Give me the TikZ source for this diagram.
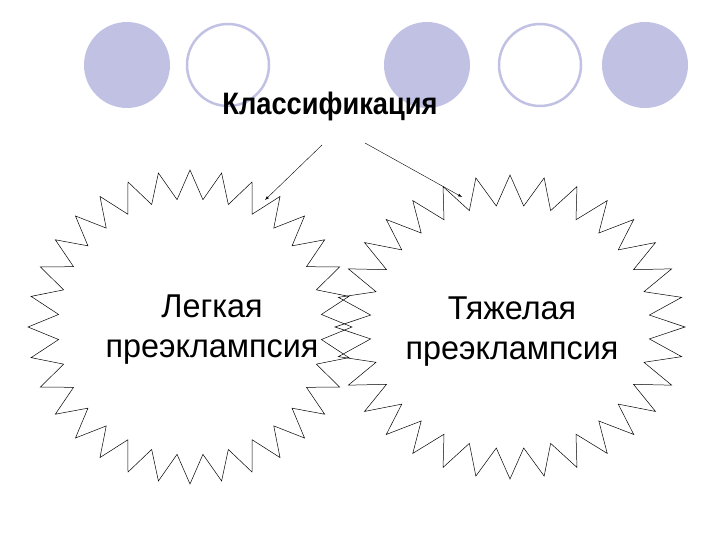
\documentclass[tikz,border=0pt]{standalone}
\usepackage{fontspec}
\setmainfont{Liberation Sans}
\begin{document}
\begin{tikzpicture}[x=1pt,y=-1pt,
  fc/.style={fill=blue!40!gray!35!white,draw=none},
  oc/.style={draw=blue!40!gray!35!white,line width=2.5pt},
  ttl/.style={font=\bfseries\fontsize{31}{36}\selectfont,xscale=0.88},
  lbl/.style={font=\fontsize{33}{40}\selectfont,align=center,xscale=0.98},
  arr/.style={-latex,thin}]
\useasboundingbox (0,0) rectangle (720,540);
\fill[fc] (127,65) circle (43);
\draw[oc] (228,65) circle (41);
\fill[fc] (427,65) circle (43);
\draw[oc] (540,65) circle (41);
\fill[fc] (645,65) circle (43);
\node[ttl] (cls) at (330,106) {Классификация};
\draw[black,line width=0.5pt] (190+162,327)
  \foreach \i [evaluate=\i as \r using {isodd(\i)?0.815:1}] in {1,...,63} { -- ({190+\r*162*cos(\i*5.625)},{327+\r*157*sin(\i*5.625)}) } -- cycle;
\draw[black,line width=0.5pt] (510+175,327)
  \foreach \i [evaluate=\i as \r using {isodd(\i)?0.8:1}] in {1,...,63} { -- ({510+\r*175*cos(\i*5.625)},{327+\r*152*sin(\i*5.625)}) } -- cycle;
\node[lbl] (l) at (212,330) {Легкая\\преэклампсия};
\node[lbl] (r) at (512,332) {Тяжелая\\преэклампсия};
\coordinate (a1) at (322,145); \coordinate (b1) at (265,200);
\coordinate (a2) at (365,143); \coordinate (b2) at (462,197);
\draw[arr] (a1) -- (b1);
\draw[arr] (a2) -- (b2);
\end{tikzpicture}
\end{document}
